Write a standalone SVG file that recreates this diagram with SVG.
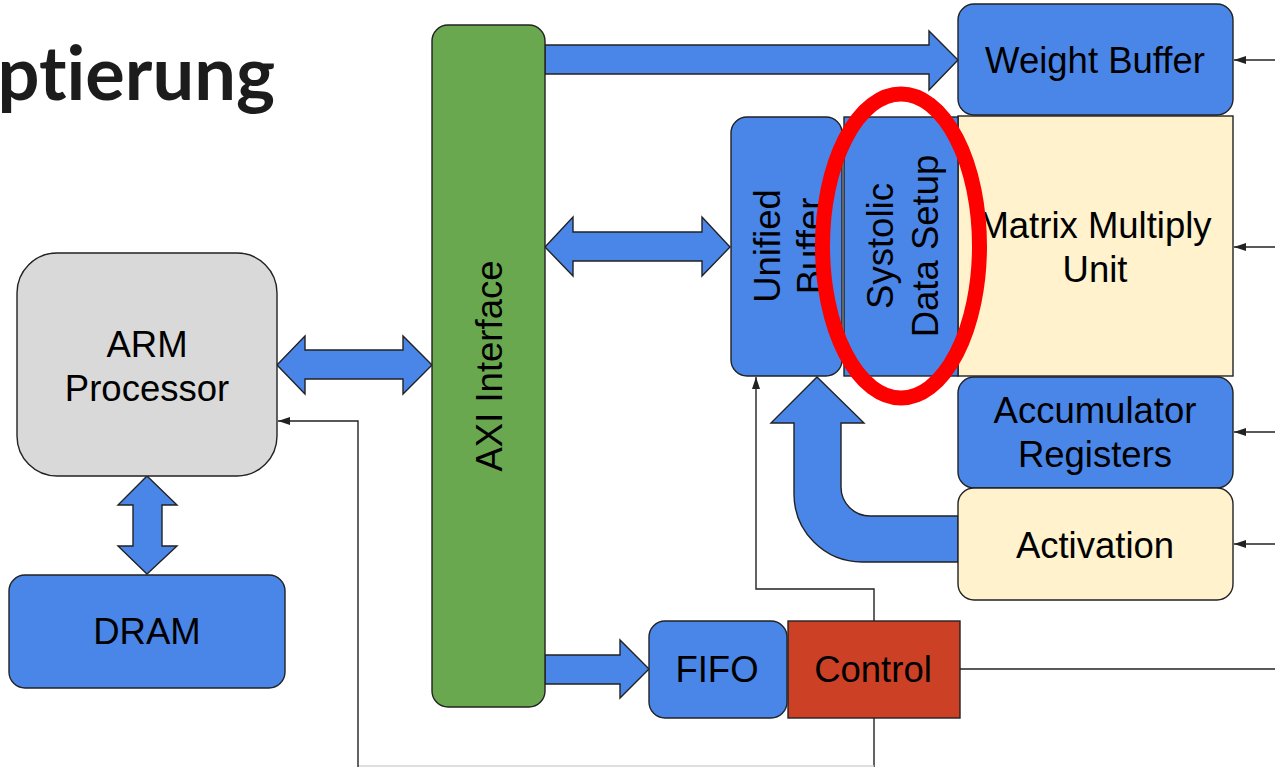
<svg xmlns="http://www.w3.org/2000/svg" width="1275" height="767" viewBox="0 0 1275 767">
  <defs>
    <marker id="tip" viewBox="0 0 12 8" refX="12" refY="4" markerWidth="12" markerHeight="8" markerUnits="userSpaceOnUse" orient="auto">
      <path d="M0,0 L12,4 L0,8 Z" fill="#222"/>
    </marker>
    <style>
      .box { stroke: #222; stroke-width: 1.4; }
      .blue { fill: #4a86e8; }
      .green { fill: #6aa84f; }
      .grey { fill: #d9d9d9; }
      .cream { fill: #fff2cc; }
      .rust { fill: #cc4125; }
      .fat { fill: #4a86e8; stroke: #222; stroke-width: 1.4; stroke-linejoin: miter; }
      .wire { fill: none; stroke: #222; stroke-width: 1.4; }
      .lbl { font-family: "Liberation Sans", Arial, sans-serif; font-size: 36.5px; fill: #000; text-anchor: middle; }
      .title { font-family: Lato, "Open Sans", sans-serif; font-weight: 700; font-size: 74px; fill: #1c1c1c; text-anchor: end; font-variant-ligatures: none; }
    </style>
  </defs>

  <rect width="1275" height="767" fill="#fff"/>

  <!-- slide heading, cut off at the left edge -->
  <text class="title" x="275" y="100">ptierung</text>

  <!-- thick data-path arrows and thin control wires -->
  <g id="connectors">
    <!-- AXI -> Weight Buffer -->
    <path class="fat" d="M545,45 L929,45 L929,31 L958,60 L929,90 L929,74 L545,74 Z"/>
    <!-- AXI <-> Unified Buffer -->
    <path class="fat" d="M545,247 L573,217 L573,232 L702,232 L702,217 L730,247 L702,276 L702,261 L573,261 L573,276 Z"/>
    <!-- ARM <-> AXI -->
    <path class="fat" d="M277,365 L305,336 L305,350 L403,350 L403,336 L432,365 L403,394 L403,379 L305,379 L305,394 Z"/>
    <!-- ARM <-> DRAM -->
    <path class="fat" d="M147,476 L177,505 L162,505 L162,546 L177,546 L147,574 L118,546 L133,546 L133,505 L118,505 Z"/>
    <!-- AXI -> FIFO -->
    <path class="fat" d="M545,655 L620,655 L620,640 L649,669 L620,698 L620,684 L545,684 Z"/>
    <!-- Activation -> Unified Buffer (U-turn) -->
    <path class="fat" d="M958,516 L870,516 A29,29 0 0 1 841,487 L841,423 L864,423 L817,377 L771,423 L794,423 L794,494 A68,68 0 0 0 862,562 L958,562 Z"/>

    <!-- control wires -->
    <polyline class="wire" points="874,621 874,589 756,589 756,377" marker-end="url(#tip)"/>
    <line class="wire" x1="874" y1="718" x2="874" y2="767"/>
    <line x1="358" y1="766" x2="874" y2="766" stroke="#d4d4d4" stroke-width="1.4"/>
    <polyline class="wire" points="358,767 358,421 278,421" marker-end="url(#tip)"/>
    <line class="wire" x1="960" y1="669" x2="1275" y2="669"/>
    <line class="wire" x1="1275" y1="60" x2="1234" y2="60" marker-end="url(#tip)"/>
    <line class="wire" x1="1275" y1="247" x2="1234" y2="247" marker-end="url(#tip)"/>
    <line class="wire" x1="1275" y1="432" x2="1234" y2="432" marker-end="url(#tip)"/>
    <line class="wire" x1="1275" y1="544" x2="1234" y2="544" marker-end="url(#tip)"/>
  </g>

  <g id="axi">
    <rect class="box green" x="432" y="25" width="113" height="682" rx="16"/>
    <text class="lbl" transform="translate(502,366) rotate(-90)">AXI Interface</text>
  </g>

  <g id="arm">
    <rect class="box grey" x="17" y="253" width="260" height="223" rx="40"/>
    <text class="lbl" x="147" y="357">ARM</text>
    <text class="lbl" x="147" y="401">Processor</text>
  </g>

  <g id="dram">
    <rect class="box blue" x="9" y="575" width="276" height="113" rx="16"/>
    <text class="lbl" x="147" y="644">DRAM</text>
  </g>

  <g id="weight-buffer">
    <rect class="box blue" x="958" y="4" width="275" height="111" rx="16"/>
    <text class="lbl" x="1095" y="73">Weight Buffer</text>
  </g>

  <g id="matrix-unit">
    <rect class="box cream" x="958" y="116" width="275" height="260"/>
    <text class="lbl" x="1095" y="238">Matrix Multiply</text>
    <text class="lbl" x="1095" y="282">Unit</text>
  </g>

  <g id="accumulators">
    <rect class="box blue" x="958" y="377" width="275" height="111" rx="16"/>
    <text class="lbl" x="1095" y="423">Accumulator</text>
    <text class="lbl" x="1095" y="467">Registers</text>
  </g>

  <g id="activation">
    <rect class="box cream" x="958" y="488" width="275" height="112" rx="16"/>
    <text class="lbl" x="1095" y="558">Activation</text>
  </g>

  <g id="unified-buffer">
    <rect class="box blue" x="731" y="117" width="111" height="259" rx="16"/>
    <text class="lbl" transform="translate(780,246) rotate(-90)">Unified</text>
    <text class="lbl" transform="translate(823,246) rotate(-90)">Buffer</text>
  </g>

  <g id="systolic-setup">
    <rect class="box blue" x="844" y="117" width="114" height="259"/>
    <text class="lbl" transform="translate(893,246) rotate(-90)">Systolic</text>
    <text class="lbl" transform="translate(938,246) rotate(-90)">Data Setup</text>
  </g>

  <g id="fifo">
    <rect class="box blue" x="649" y="621" width="138" height="97" rx="16"/>
    <text class="lbl" x="717" y="682">FIFO</text>
  </g>

  <g id="control">
    <rect class="box rust" x="788" y="621" width="172" height="97"/>
    <text class="lbl" x="873" y="682">Control</text>
  </g>

  <!-- highlight ring around the systolic setup stage -->
  <ellipse id="highlight" cx="901" cy="246" rx="78.5" ry="152" fill="none" stroke="#ff0000" stroke-width="15"/>
</svg>
